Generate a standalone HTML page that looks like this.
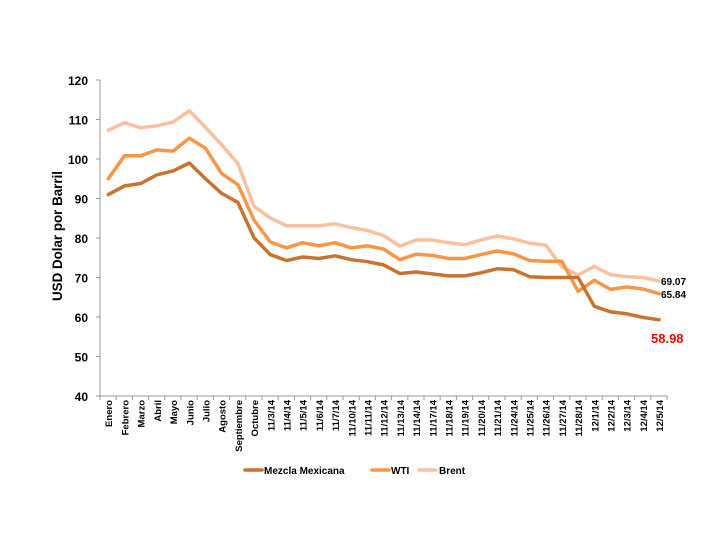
<!DOCTYPE html>
<html><head><meta charset="utf-8"><style>
html,body{margin:0;padding:0;background:#fff;}
svg{display:block;font-family:"Liberation Sans",sans-serif;font-weight:bold;}
</style></head><body>
<svg width="720" height="540" viewBox="0 0 720 540">
<line x1="100" y1="80" x2="100" y2="396" stroke="#999" stroke-width="1"/>
<line x1="100" y1="396" x2="667" y2="396" stroke="#999" stroke-width="1"/>
<path stroke="#999" stroke-width="1" d="M96 80H100M96 119.5H100M96 159H100M96 198.5H100M96 238H100M96 277.5H100M96 317H100M96 356.5H100M96 396H100
M100 396V400M116.2 396V400M132.4 396V400M148.6 396V400M164.8 396V400M181 396V400M197.2 396V400M213.4 396V400M229.6 396V400M245.8 396V400M262 396V400M278.2 396V400M294.4 396V400M310.6 396V400M326.8 396V400M343 396V400M359.2 396V400M375.4 396V400M391.6 396V400M407.8 396V400M424 396V400M440.2 396V400M456.4 396V400M472.6 396V400M488.8 396V400M505 396V400M521.2 396V400M537.4 396V400M553.6 396V400M569.8 396V400M586 396V400M602.2 396V400M618.4 396V400M634.6 396V400M650.8 396V400M667 396V400"/>
<g font-size="12" text-anchor="end" fill="#000">
<text x="88" y="85">120</text>
<text x="88" y="124.5">110</text>
<text x="88" y="164">100</text>
<text x="88" y="203.5">90</text>
<text x="88" y="243">80</text>
<text x="88" y="282.5">70</text>
<text x="88" y="322">60</text>
<text x="88" y="361.5">50</text>
<text x="88" y="401">40</text>
</g>
<text transform="translate(62,236) rotate(-90)" text-anchor="middle" font-size="14" textLength="130" lengthAdjust="spacingAndGlyphs">USD Dolar por Barril</text>
<g fill="none" stroke-width="3.5" stroke-linejoin="round" stroke-linecap="round">
<polyline stroke="#FAC09F" points="108.3,130.2 124.5,122.7 140.7,127.8 156.9,125.8 173.1,121.9 189.3,110.8 205.5,127.4 221.7,144.8 237.9,163.7 254.1,206.4 270.3,217.9 286.5,225.75 302.7,225.75 318.9,225.75 335.1,223.8 351.3,227.7 367.5,230.5 383.7,235.6 399.9,246.1 416.1,240 432.3,240 448.5,242.7 464.7,244.7 480.9,240 497.1,236 513.3,238.8 529.5,243.1 545.7,245.1 561.9,266.8 578.1,275.1 594.3,266.4 610.5,274.7 626.7,276.7 642.9,277.5 659.1,281.1"/>
<polyline stroke="#F79646" points="108.3,178.75 124.5,155.8 140.7,155.8 156.9,149.9 173.1,151.1 189.3,138.1 205.5,148.3 221.7,173.6 237.9,184.7 254.1,220.2 270.3,242 286.5,247.9 302.7,242.7 318.9,245.9 335.1,242.7 351.3,247.9 367.5,245.9 383.7,249.1 399.9,259.7 416.1,254.2 432.3,255.4 448.5,258.5 464.7,258.5 480.9,254.6 497.1,251 513.3,253.8 529.5,260.5 545.7,261.3 561.9,261.3 578.1,291.3 594.3,280.3 610.5,289.4 626.7,287 642.9,289 659.1,293.7"/>
<polyline stroke="#C8732F" points="108.3,194.6 124.5,185.9 140.7,183.5 156.9,174.8 173.1,170.9 189.3,163 205.5,178.75 221.7,193.4 237.9,202.45 254.1,238 270.3,254.6 286.5,260.5 302.7,257 318.9,258.5 335.1,255.8 351.3,259.7 367.5,261.7 383.7,264.9 399.9,273.55 416.1,272 432.3,273.9 448.5,275.9 464.7,275.9 480.9,272.8 497.1,268.8 513.3,269.6 529.5,276.7 545.7,277.5 561.9,277.5 578.1,277.5 594.3,306.3 610.5,311.9 626.7,313.8 642.9,317.4 659.1,319.8"/>
</g>
<g font-size="9.5" text-anchor="end">
<text transform="translate(112,400) rotate(-90)">Enero</text>
<text transform="translate(128.5,400) rotate(-90)">Febrero</text>
<text transform="translate(144.7,400) rotate(-90)">Marzo</text>
<text transform="translate(160.9,400) rotate(-90)">Abril</text>
<text transform="translate(177.1,400) rotate(-90)">Mayo</text>
<text transform="translate(193.3,400) rotate(-90)">Junio</text>
<text transform="translate(209.5,400) rotate(-90)">Julio</text>
<text transform="translate(225.7,400) rotate(-90)">Agosto</text>
<text transform="translate(241.9,400) rotate(-90)">Septiembre</text>
<text transform="translate(258.1,400) rotate(-90)">Octubre</text>
<text transform="translate(274.3,400) rotate(-90)">11/3/14</text>
<text transform="translate(290.5,400) rotate(-90)">11/4/14</text>
<text transform="translate(306.7,400) rotate(-90)">11/5/14</text>
<text transform="translate(322.9,400) rotate(-90)">11/6/14</text>
<text transform="translate(339.1,400) rotate(-90)">11/7/14</text>
<text transform="translate(355.3,400) rotate(-90)">11/10/14</text>
<text transform="translate(371.5,400) rotate(-90)">11/11/14</text>
<text transform="translate(387.7,400) rotate(-90)">11/12/14</text>
<text transform="translate(403.9,400) rotate(-90)">11/13/14</text>
<text transform="translate(420.1,400) rotate(-90)">11/14/14</text>
<text transform="translate(436.3,400) rotate(-90)">11/17/14</text>
<text transform="translate(452.5,400) rotate(-90)">11/18/14</text>
<text transform="translate(468.7,400) rotate(-90)">11/19/14</text>
<text transform="translate(484.9,400) rotate(-90)">11/20/14</text>
<text transform="translate(501.1,400) rotate(-90)">11/21/14</text>
<text transform="translate(517.3,400) rotate(-90)">11/24/14</text>
<text transform="translate(533.5,400) rotate(-90)">11/25/14</text>
<text transform="translate(549.7,400) rotate(-90)">11/26/14</text>
<text transform="translate(565.9,400) rotate(-90)">11/27/14</text>
<text transform="translate(582.1,400) rotate(-90)">11/28/14</text>
<text transform="translate(598.3,400) rotate(-90)">12/1/14</text>
<text transform="translate(614.5,400) rotate(-90)">12/2/14</text>
<text transform="translate(630.7,400) rotate(-90)">12/3/14</text>
<text transform="translate(646.9,400) rotate(-90)">12/4/14</text>
<text transform="translate(663.1,400) rotate(-90)">12/5/14</text>
</g>
<g font-size="10">
<text x="661" y="285">69.07</text>
<text x="661" y="298">65.84</text>
</g>
<text x="651" y="343" font-size="13" fill="#ff0000">58.98</text>
<g font-size="10">
<line x1="245" y1="470" x2="262" y2="470" stroke="#C8732F" stroke-width="3.5" stroke-linecap="round"/>
<text x="264" y="474">Mezcla Mexicana</text>
<line x1="372" y1="470" x2="389" y2="470" stroke="#F79646" stroke-width="3.5" stroke-linecap="round"/>
<text x="391" y="474">WTI</text>
<line x1="419" y1="470" x2="436" y2="470" stroke="#FAC09F" stroke-width="3.5" stroke-linecap="round"/>
<text x="439" y="474">Brent</text>
</g>
</svg>
</body></html>
